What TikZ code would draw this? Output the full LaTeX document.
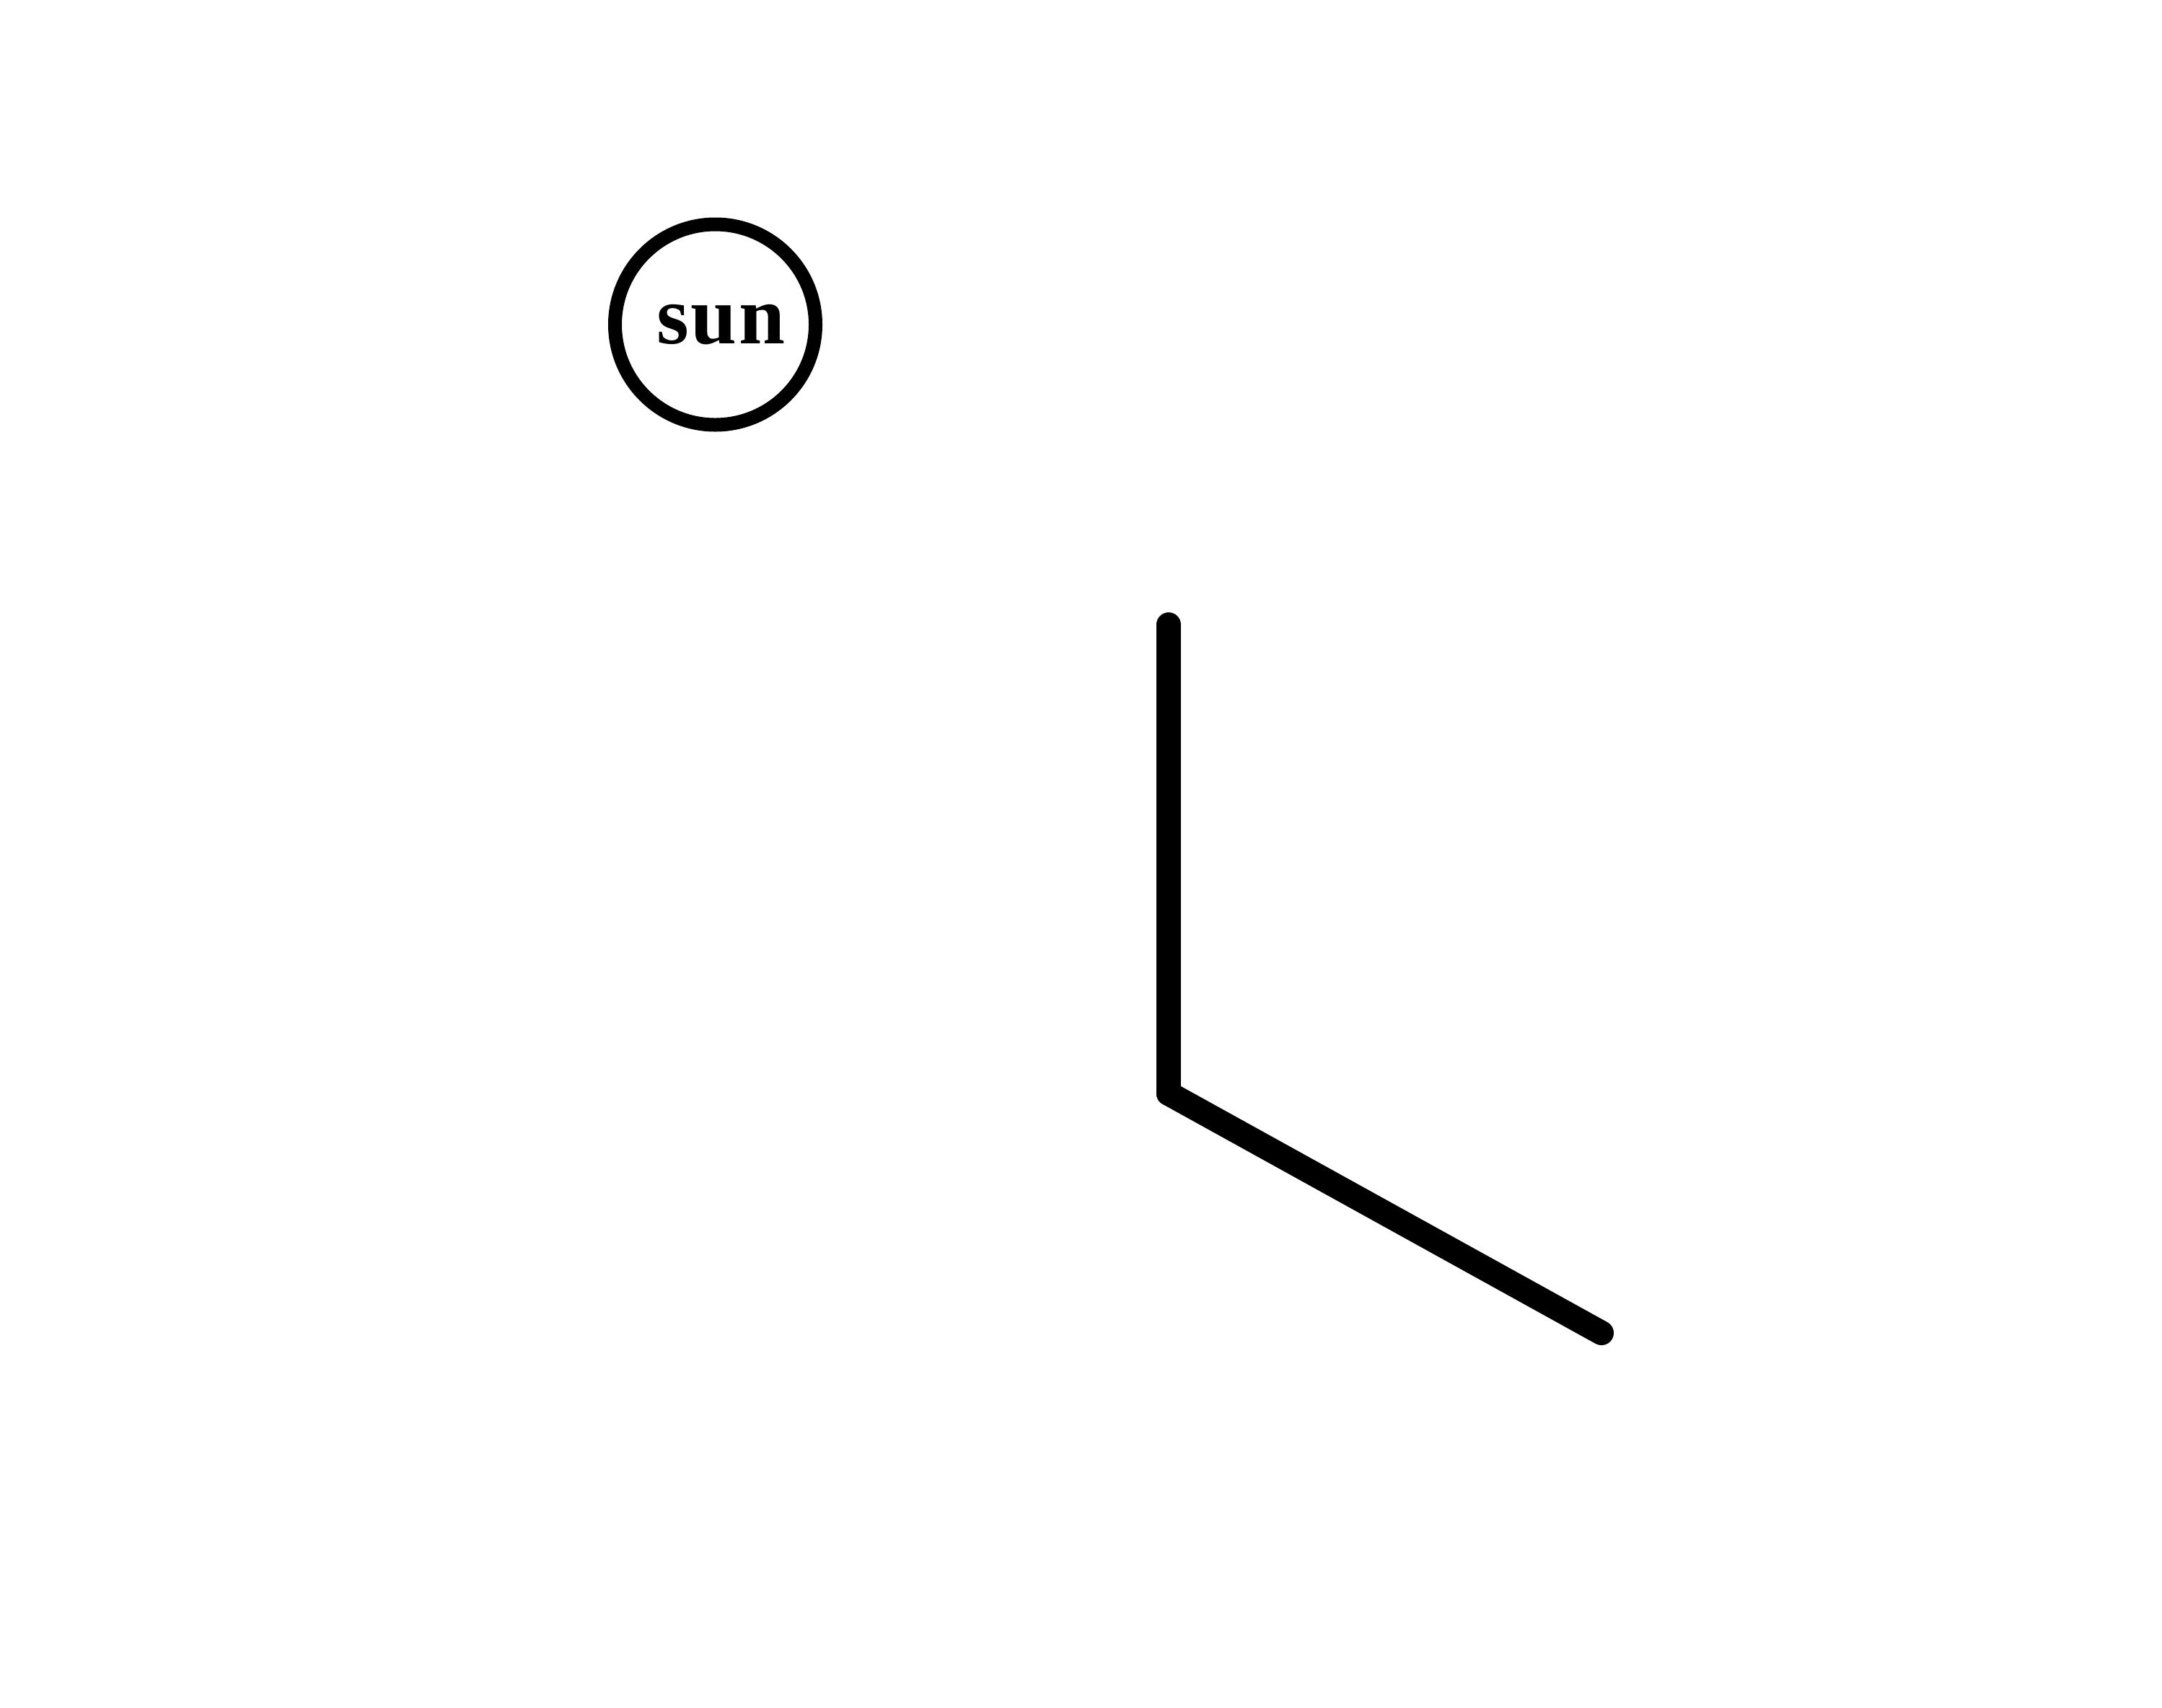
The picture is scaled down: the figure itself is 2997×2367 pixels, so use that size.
\documentclass[tikz,border=0pt]{standalone}
\usepackage{fontspec}
\setmainfont{Liberation Serif}
\newfontfamily\sunfont[LetterSpace=2.0]{Liberation Serif}
\begin{document}
\begin{tikzpicture}[x=0.1mm,y=-0.1mm,
  sunnode/.style={circle,draw=black,line width=1.9mm,minimum size=27.8mm,inner sep=0pt,
    font=\sunfont\fontsize{32.7pt}{36pt}\selectfont\bfseries},
  thickline/.style={line width=3.4mm,line cap=round,draw=black}]
\useasboundingbox (0,0) rectangle (2997,2367);
\node[sunnode] (sun) at (991.5,450) {\hspace{1.6mm}sun};
\coordinate (a) at (1620,866);
\coordinate (b) at (1620,1516);
\coordinate (c) at (2220,1848);
\draw[thickline] (a) -- (b);
\draw[thickline] (b) -- (c);
\end{tikzpicture}
\end{document}
